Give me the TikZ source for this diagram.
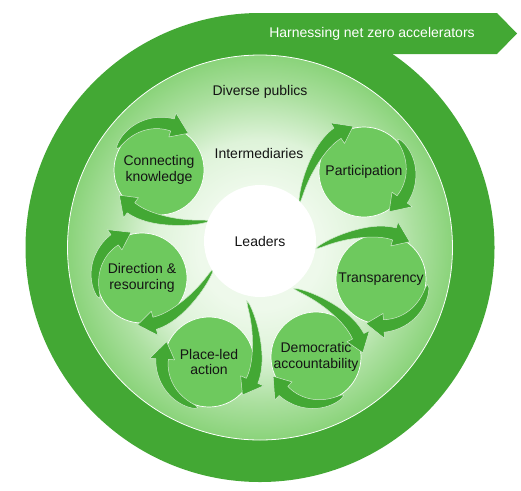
\documentclass[tikz,border=0pt]{standalone}
\usepackage{fontspec}
\setmainfont{Liberation Sans}
\usetikzlibrary{calc}
\definecolor{ringgreen}{RGB}{67,168,52}
\definecolor{circgreen}{RGB}{110,201,94}
\definecolor{discedge}{RGB}{138,211,122}
\definecolor{discouter}{RGB}{172,224,160}
\definecolor{disccenter}{RGB}{238,249,235}
\definecolor{discmid}{RGB}{222,243,217}
\definecolor{txt}{RGB}{20,20,20}
\pgfdeclareradialshading{discshade}{\pgfpoint{0bp}{0bp}}{color(0bp)=(disccenter); color(8bp)=(disccenter); color(14bp)=(discmid); color(20bp)=(discouter); color(25bp)=(discedge); color(50bp)=(discedge)}
\tikzset{
  lbl/.style={font=\fontsize{14}{15.5}\selectfont, text=txt, align=center, inner sep=0pt},
  smallc/.style={circle, fill=circgreen, draw=white, line width=0.7pt, minimum size=90pt, inner sep=0pt, lbl},
  arrowfill/.style={fill=ringgreen, draw=white!75!ringgreen, line width=0.5pt, line join=round},
}
% #1 cx, #2 cy, #3 beta, #4 tail rel, #5 head base rel, #6 tip rel, #7 tail radius
\newcommand\cyclearrow[7]{%
  \fill[arrowfill] ($(#1,#2)+({#3+#4}:#7)$)
    \foreach \i in {1,...,24} { -- ($(#1,#2)+({#3+#4+(#5-#4)*\i/24}:{47+(#7-47)*(1-\i/24)^3+6.3*(\i/24)^0.45})$) }
    -- ($(#1,#2)+({#3+#5}:59.5)$) -- ($(#1,#2)+({#3+#6}:47)$) -- ($(#1,#2)+({#3+#5}:34.5)$)
    \foreach \i in {24,23,...,1} { -- ($(#1,#2)+({#3+#4+(#5-#4)*\i/24}:{47+(#7-47)*(1-\i/24)^3-6.3*(\i/24)^0.45})$) }
    -- cycle;}
\newcommand\twoarrows[3]{%
  \cyclearrow{#1}{#2}{#3}{-172}{-90}{-69}{72}%
  \cyclearrow{#1}{#2}{#3}{-10}{70}{92}{47}}
\begin{document}
\begin{tikzpicture}[x=1pt,y=-1pt]
\useasboundingbox (0,0) rectangle (521,490);
\fill[white] (0,0) rectangle (521,490);
% outer ring and banner
\fill[ringgreen] (260,247.5) circle (234.5);
\fill[ringgreen] (260,13) -- (497,13) -- (517,33.5) -- (497,54) -- (300,54) -- cycle;
\node[lbl, text=white] (banner) at (372,33.5) {Harnessing net zero accelerators};
% inner disc
\shade[shading=discshade] (260,247.5) circle (192.5);
\draw[white, line width=0.8pt] (260,247.5) circle (192.5);
\node[lbl, anchor=base] (publics) at (260,95) {Diverse publics};
\node[lbl, anchor=base] (inter) at (259,158) {Intermediaries};
% small circles
\node[smallc] (part) at (364,172) {Participation};
\node[smallc] (trans) at (381,279) {Transparency};
\node[smallc] (demo) at (316,357) {Democratic\\accountability};
\node[smallc] (place) at (209,362) {Place-led\\action};
\node[smallc] (dir) at (142,278) {Direction \&\\resourcing};
\node[smallc] (conn) at (159,170) {Connecting\\knowledge};
% arrows
\twoarrows{364}{172}{-34.3}
\twoarrows{381}{279}{16.6}
\twoarrows{316}{357}{63.8}
\twoarrows{209}{362}{113.6}
\twoarrows{142}{278}{164.4}
\twoarrows{159}{170}{216.6}
% leaders
\node[circle, fill=white, minimum size=112pt, lbl] (leaders) at (260,241) {Leaders};
\end{tikzpicture}
\end{document}
